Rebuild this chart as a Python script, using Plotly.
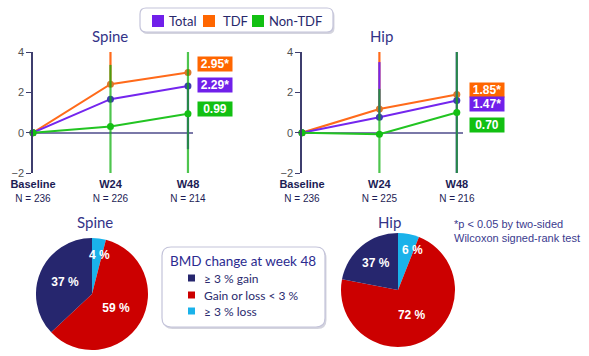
import plotly.graph_objects as go

W, H = 589, 356

# ---------------- data ----------------
timepoints = ["Baseline", "W24", "W48"]
spine_n = [236, 226, 214]
hip_n = [236, 225, 216]
series_names = ["Total", "TDF", "Non-TDF"]

spine_total = [0, 1.66, 2.31]
spine_tdf = [0, 2.40, 2.98]
spine_nontdf = [0, 0.31, 0.94]
hip_total = [0, 0.76, 1.60]
hip_tdf = [0, 1.17, 1.89]
hip_nontdf = [0, -0.08, 1.00]

# visible error-bar extents (upper / lower)
spine_total_up = [0, 0, 0]
spine_total_lo = [0, 0, 3.13]
spine_tdf_up = [0, 1.9, 0]
spine_tdf_lo = [0, 0, 0]
spine_nontdf_up = [0, 3.05, 3.2]
spine_nontdf_lo = [0, 3.05, 3.2]
hip_total_up = [0, 2.74, 3.0]
hip_total_lo = [0, 0, 4.0]
hip_tdf_up = [0, 3.0, 0]
hip_tdf_lo = [0, 0, 0]
hip_nontdf_up = [0, 2.25, 3.3]
hip_nontdf_lo = [0, 2.25, 3.3]

spine_w48_labels = ["2.95*", "2.29*", "0.99"]
hip_w48_labels = ["1.85*", "1.47*", "0.70"]

pie_categories = ["\u2265 3 % loss", "Gain or loss < 3 %", "\u2265 3 % gain"]
spine_pie_values = [4, 59, 37]
spine_pie_text = ["4 %", "59 %", "37 %"]
hip_pie_values = [6, 72, 22]
hip_pie_text = ["6 %", "72 %", "37 %"]
legend_items = ["\u2265 3 % gain", "Gain or loss < 3 %", "\u2265 3 % loss"]

# ---------------- styles ----------------
LINE_COL = {"Total": "#7426ee", "TDF": "#ff6a1a", "Non-TDF": "#22c422"}
MARK_COL = {"Total": "#3d3dae", "TDF": "#d8782a", "Non-TDF": "#14c014"}
ERR_COL = {"Total": "#7426ee", "TDF": "#ff6a1a", "Non-TDF": "rgba(10,175,10,0.72)"}
BOX_COL = {"Total": "#7020ea", "TDF": "#ff6600", "Non-TDF": "#12c012"}
PIE_COL = ["#1ab2ea", "#cc0000", "#26266e"]
FONT = "Arial, Liberation Sans, sans-serif"
FONT2 = "Lato, Noto Sans, sans-serif"
DRAW_ORDER = ["TDF", "Total", "Non-TDF"]


def px(x):
    return x / W


def py(y):
    return 1 - y / H


fig = go.Figure()

panels = [
    ("x", "y",
     {"Total": (spine_total, spine_total_up, spine_total_lo),
      "TDF": (spine_tdf, spine_tdf_up, spine_tdf_lo),
      "Non-TDF": (spine_nontdf, spine_nontdf_up, spine_nontdf_lo)}),
    ("x2", "y2",
     {"Total": (hip_total, hip_total_up, hip_total_lo),
      "TDF": (hip_tdf, hip_tdf_up, hip_tdf_lo),
      "Non-TDF": (hip_nontdf, hip_nontdf_up, hip_nontdf_lo)}),
]

for xa, ya, data in panels:
    for name in DRAW_ORDER:
        vals, up, lo = data[name]
        fig.add_trace(go.Scatter(
            x=list(range(len(timepoints))), y=vals, xaxis=xa, yaxis=ya,
            mode="lines+markers", name=name, showlegend=False,
            line=dict(color=LINE_COL[name], width=2),
            marker=dict(color=MARK_COL[name], size=7),
            error_y=dict(type="data", symmetric=False, array=up, arrayminus=lo,
                         color=ERR_COL[name], thickness=2.2, width=0),
            cliponaxis=False,
        ))


def tick_text(tps, ns):
    return [f"<b>{t}</b><br><span style='font-size:10px'>N = {n}</span>" for t, n in zip(tps, ns)]


ydom = [py(173), py(52)]
common_y = dict(range=[-2, 4], tickvals=[-2, 0, 2, 4], showgrid=False, automargin=False,
                zeroline=True, zerolinecolor="#7a78a8", zerolinewidth=1.5,
                showline=True, linecolor="#3e3e6e", linewidth=1.5,
                ticks="outside", ticklen=5, tickcolor="#3e3e6e",
                tickfont=dict(family=FONT, size=11, color="#505050"))
common_x = dict(showgrid=False, zeroline=False, showline=False, ticks="", automargin=False,
                ticklabelstandoff=3,
                tickvals=[0, 1, 2], tickfont=dict(family=FONT, size=11, color="#1c1c55"))

fig.update_layout(
    xaxis=dict(domain=[px(33), px(193)], range=[0, 2.065],
               ticktext=tick_text(timepoints, spine_n), anchor="y", **common_x),
    yaxis=dict(domain=ydom, anchor="x", **common_y),
    xaxis2=dict(domain=[px(302), px(463)], range=[0, 2.08],
                ticktext=tick_text(timepoints, hip_n), anchor="y2", **common_x),
    yaxis2=dict(domain=ydom, anchor="x2", **common_y),
)

# ---------------- pies ----------------
def pie(values, texts, dom):
    return go.Pie(
        values=values, labels=pie_categories, text=[f"<b>{t}</b>" for t in texts],
        textinfo="text", sort=False, direction="clockwise", rotation=0,
        marker=dict(colors=PIE_COL, line=dict(width=0)),
        textposition=["none", "inside", "inside"], insidetextorientation="horizontal",
        textfont=dict(family=FONT, size=12, color="white"),
        domain=dom, showlegend=False, hoverinfo="label+text", automargin=False,
    )


fig.add_trace(pie(spine_pie_values, spine_pie_text,
                  dict(x=[px(36), px(148)], y=[py(350), py(238)])))
fig.add_trace(pie(hip_pie_values, hip_pie_text,
                  dict(x=[px(341), px(455)], y=[py(347), py(233)])))

shapes = []
annotations = []

# small-slice labels (placed as in the reference, straddling the slice)
for t, x, y in [(spine_pie_text[0], 99, 255), (hip_pie_text[0], 412, 250)]:
    annotations.append(dict(text=f"<b>{t}</b>", x=px(x), y=py(y), xref="paper", yref="paper",
                            xanchor="center", yanchor="middle", showarrow=False,
                            font=dict(family=FONT, size=12, color="white")))


def rrect(x0, y0, x1, y1, r):
    X = lambda v: f"{px(v):.5f}"
    Y = lambda v: f"{py(v):.5f}"
    return (f"M {X(x0 + r)},{Y(y0)} L {X(x1 - r)},{Y(y0)} Q {X(x1)},{Y(y0)} {X(x1)},{Y(y0 + r)} "
            f"L {X(x1)},{Y(y1 - r)} Q {X(x1)},{Y(y1)} {X(x1 - r)},{Y(y1)} "
            f"L {X(x0 + r)},{Y(y1)} Q {X(x0)},{Y(y1)} {X(x0)},{Y(y1 - r)} "
            f"L {X(x0)},{Y(y0 + r)} Q {X(x0)},{Y(y0)} {X(x0 + r)},{Y(y0)} Z")


def box(x0, y0, x1, y1, r):
    shapes.append(dict(type="path", xref="paper", yref="paper",
                       path=rrect(x0 + 1.5, y0 + 2, x1 + 1.5, y1 + 2, r),
                       fillcolor="#d4d4de", line=dict(width=0), layer="below"))
    shapes.append(dict(type="path", xref="paper", yref="paper",
                       path=rrect(x0, y0, x1, y1, r),
                       fillcolor="white", line=dict(color="#c4c4da", width=1.2), layer="below"))


# top legend
box(140, 8, 333, 32, 6)
leg_sq_x = [152, 203, 252]
leg_tx_x = [167, 221, 267]
for name, sx, tx in zip(series_names, leg_sq_x, leg_tx_x):
    shapes.append(dict(type="rect", xref="paper", yref="paper",
                       x0=px(sx), x1=px(sx + 12), y0=py(27), y1=py(15),
                       fillcolor=BOX_COL[name], line=dict(width=0)))
    annotations.append(dict(text=name, x=px(tx), y=py(21), xref="paper", yref="paper",
                            xanchor="left", yanchor="middle", showarrow=False,
                            font=dict(family=FONT2, size=13, color="#28286c")))

# titles
for t, x, y in [("Spine", 110, 36), ("Hip", 381, 36), ("Spine", 95, 222), ("Hip", 389, 222)]:
    annotations.append(dict(text=t, x=px(x), y=py(y), xref="paper", yref="paper",
                            xanchor="center", yanchor="middle", showarrow=False,
                            font=dict(family=FONT2, size=15, color="#333388")))

# W48 value boxes
box_order = ["TDF", "Total", "Non-TDF"]
spine_box_y = [64, 85, 109]
hip_box_y = [90, 104, 125]
for labels, cx, ys in [(spine_w48_labels, 215, spine_box_y), (hip_w48_labels, 487, hip_box_y)]:
    for name, lab, yc in zip(box_order, labels, ys):
        annotations.append(dict(text=f"<b>{lab}</b>", x=px(cx), y=py(yc), xref="paper", yref="paper",
                                xanchor="center", yanchor="middle", showarrow=False,
                                bgcolor=BOX_COL[name], width=34, height=14, borderpad=0,
                                font=dict(family=FONT, size=12, color="white")))

# BMD legend box
box(162, 247, 325, 327, 9)
annotations.append(dict(text="BMD change at week 48", x=px(243), y=py(261), xref="paper", yref="paper",
                        xanchor="center", yanchor="middle", showarrow=False,
                        font=dict(family=FONT2, size=13.5, color="#2b2b90")))
leg_cols = [PIE_COL[2], PIE_COL[1], PIE_COL[0]]
for lab, col, yc in zip(legend_items, leg_cols, [278, 295, 311]):
    shapes.append(dict(type="rect", xref="paper", yref="paper",
                       x0=px(188), x1=px(195), y0=py(yc + 3.5), y1=py(yc - 3.5),
                       fillcolor=col, line=dict(width=0)))
    annotations.append(dict(text=lab, x=px(202), y=py(yc), xref="paper", yref="paper",
                            xanchor="left", yanchor="middle", showarrow=False,
                            font=dict(family=FONT2, size=12, color="#2a2a6e")))

# footnote
annotations.append(dict(text="*p < 0.05 by two-sided<br>Wilcoxon signed-rank test",
                        x=px(452), y=py(216), xref="paper", yref="paper", align="left",
                        xanchor="left", yanchor="top", showarrow=False,
                        font=dict(family=FONT, size=11, color="#3a3a8e")))

fig.update_layout(
    width=W, height=H, margin=dict(l=0, r=0, t=0, b=0, autoexpand=False),
    paper_bgcolor="white", plot_bgcolor="white",
    shapes=shapes, annotations=annotations, showlegend=False,
)

fig.write_html("out.html", config={"displayModeBar": False},
               post_script="document.body.style.margin='0';document.body.style.overflow='hidden';")
